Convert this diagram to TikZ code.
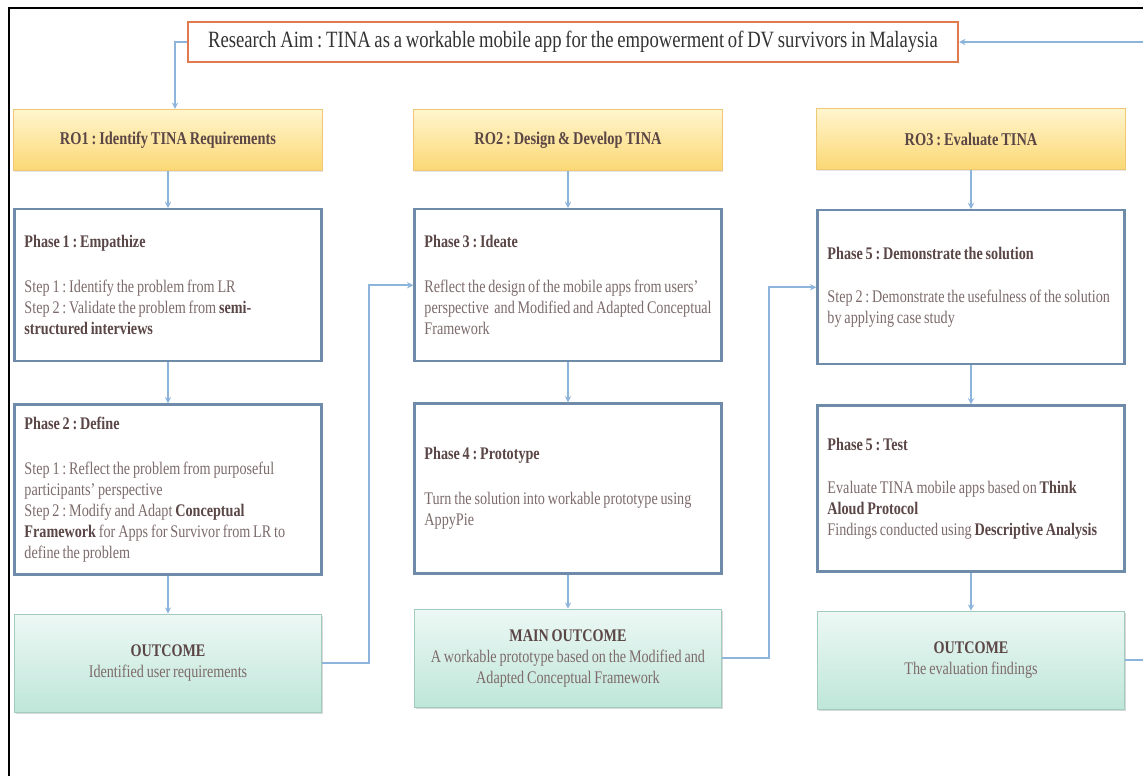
\documentclass[tikz,border=0pt]{standalone}
\usepackage{fontspec}
\setmainfont{Liberation Serif}[FakeStretch=0.8, WordSpace=0.8]
\usepackage{xcolor}
\usepackage{tikz}
\usetikzlibrary{positioning,shadows,arrows.meta}
\hyphenpenalty=10000
\exhyphenpenalty=10000
\frenchspacing
\definecolor{aimorange}{HTML}{E07B4F}
\definecolor{phaseblue}{HTML}{6F8BAA}
\definecolor{linkblue}{HTML}{8DB4DA}
\definecolor{rotop}{HTML}{FFF5CE}
\definecolor{robottom}{HTML}{FBD874}
\definecolor{roborder}{HTML}{F0C773}
\definecolor{outtop}{HTML}{EDF8F5}
\definecolor{outbottom}{HTML}{BEE6D9}
\definecolor{outborder}{HTML}{A2CBBF}
\definecolor{bodytxt}{HTML}{7D6B6B}
\definecolor{headtxt}{HTML}{5B4646}
\newcommand{\keyword}[1]{\textcolor{headtxt}{\textbf{#1}}}
\tikzstyle{aim} = [draw=aimorange, line width=1.5pt, fill=white, rectangle, minimum height=1cm, minimum width=19.25cm, text=black!80, font=\fontsize{16.6}{19}\selectfont, drop shadow={opacity=0.2, shadow xshift=0.6pt, shadow yshift=-0.8pt}]
\tikzstyle{ro} = [draw=roborder, line width=0.8pt, rectangle, top color=rotop, bottom color=robottom, minimum height=1.525cm, minimum width=7.725cm, text=headtxt, font=\fontsize{12.8}{15}\selectfont\bfseries, drop shadow={opacity=0.2, shadow xshift=0.6pt, shadow yshift=-0.8pt}]
\tikzstyle{phase} = [draw=phaseblue, line width=1.6pt, fill=white, rectangle, text width=7.175cm, inner xsep=0.25cm, align=flush left, text=bodytxt, font=\fontsize{12.6}{14.9}\selectfont, drop shadow={opacity=0.15, shadow xshift=0.6pt, shadow yshift=-0.8pt}]
\tikzstyle{outcome} = [draw=outborder, line width=0.8pt, rectangle, top color=outtop, bottom color=outbottom, minimum height=2.45cm, text width=7.3cm, inner xsep=0.1875cm, align=flush center, text=bodytxt, font=\fontsize{12.6}{14.9}\selectfont, drop shadow={opacity=0.3, shadow xshift=0.8pt, shadow yshift=-1pt}]
\tikzstyle{link} = [draw=linkblue, line width=1.1pt, -{Stealth[length=4.5pt,width=4.5pt]}]

\begin{document}
\begin{tikzpicture}[x=0.025cm, y=-0.025cm]
	\useasboundingbox (0,0) rectangle (1143,776);
	\draw [line width=1.4pt] (9,776) -- (9,8) -- (1143,8);

	\node [aim] (aim) at (573,42) {Research Aim : TINA as a workable mobile app for the empowerment of DV survivors in Malaysia};

	\node [ro] (ro1) at (168,140) {RO1 : Identify TINA Requirements};
	\node [ro] (ro2) at (568,140) {RO2 : Design \& Develop TINA};
	\node [ro] (ro3) at (971,139) {RO3 : Evaluate TINA};

	% column 1
	\node [phase, minimum height=3.8cm, below=0.925cm of ro1] (ph1) {\keyword{Phase 1 : Empathize}\\[17pt]
		Step 1 : Identify the problem from LR\\
		Step 2 : Validate the problem from \keyword{semi-}\\
		\keyword{structured interviews}};
	\node [phase, minimum height=4.25cm, below=1.025cm of ph1] (ph2) {\keyword{Phase 2 : Define}\\[17pt]
		Step 1 : Reflect the problem from purposeful\\
		participants' perspective\\
		Step 2 : Modify and Adapt \keyword{Conceptual}\\
		\keyword{Framework} for Apps for Survivor from LR to\\
		define the problem};
	\node [outcome, below=0.95cm of ph2] (out1) {\keyword{OUTCOME}\\Identified user requirements};

	% column 2
	\node [phase, minimum height=3.8cm, below=0.925cm of ro2] (ph3) {\keyword{Phase 3 : Ideate}\\[17pt]
		Reflect the design of the mobile apps from users'\\
		perspective~ and Modified and Adapted Conceptual\\
		Framework};
	\node [phase, minimum height=4.25cm, below=1cm of ph3] (ph4) {\keyword{Phase 4 : Prototype}\\[17pt]
		Turn the solution into workable prototype using\\
		AppyPie};
	\node [outcome, below=0.85cm of ph4] (out2) {\keyword{MAIN OUTCOME}\\A workable prototype based on the Modified and\\Adapted Conceptual Framework};

	% column 3
	\node [phase, minimum height=3.85cm, below=0.975cm of ro3] (ph5) {\keyword{Phase 5 : Demonstrate the solution}\\[16pt]
		Step 2 : Demonstrate the usefulness of the solution\\
		by applying case study};
	\node [phase, minimum height=4.15cm, below=0.975cm of ph5] (ph6) {\keyword{Phase 5 : Test}\\[16pt]
		Evaluate TINA mobile apps based on \keyword{Think}\\
		\keyword{Aloud Protocol}\\
		Findings conducted using \keyword{Descriptive Analysis}};
	\node [outcome, below=0.95cm of ph6] (out3) {\keyword{OUTCOME}\\The evaluation findings};

	\draw [link] (aim.west) -| ([xshift=0.175cm]ro1.north);
	\draw [link] (ro1.south) -- (ph1.north);
	\draw [link] (ph1.south) -- (ph2.north);
	\draw [link] (ph2.south) -- (out1.north);
	\draw [link] (ro2.south) -- (ph3.north);
	\draw [link] (ph3.south) -- (ph4.north);
	\draw [link] (ph4.south) -- (out2.north);
	\draw [link] (ro3.south) -- (ph5.north);
	\draw [link] (ph5.south) -- (ph6.north);
	\draw [link] (ph6.south) -- (out3.north);
	\draw [link] (out1.east) -- ++(47,0) |- (ph3.west);
	\draw [link] (out2.east) -- ++(47,0) |- (ph5.west);
	\draw [link] (out3.east) -- ++(60,0) |- (aim.east);
\end{tikzpicture}
\end{document}
